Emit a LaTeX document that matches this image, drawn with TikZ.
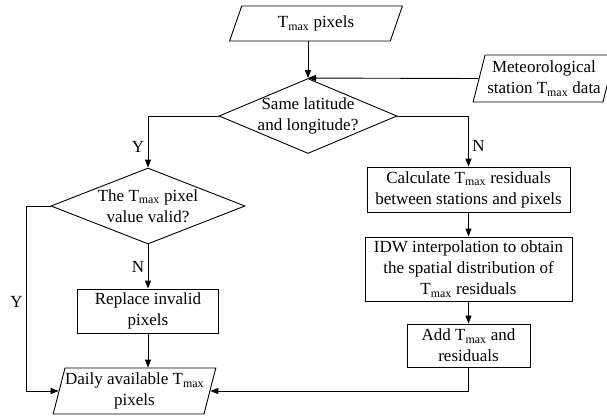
\documentclass[tikz,border=0pt]{standalone}
\usepackage{fontspec}
\setmainfont{Liberation Serif}
\newfontfamily\timesfont{Liberation Serif}
\usetikzlibrary{shapes.geometric,arrows.meta}
\newcommand{\Tmx}{T\textsubscript{max}}

\begin{document}
\begin{tikzpicture}[x=1pt,y=-1pt,
  font=\timesfont\fontsize{17}{21}\selectfont,
  line width=0.9pt,
  io/.style={draw,trapezium,trapezium left angle=72,trapezium right angle=108,
    trapezium stretches=true,inner sep=0pt,align=center},
  proc/.style={draw,rectangle,inner sep=0pt,align=center},
  decide/.style={draw,diamond,inner sep=0pt},
  flow/.style={-{Triangle[length=8pt,width=6pt]}}]
\useasboundingbox (0,0) rectangle (607,416);
% inputs
\node[io,trapezium left angle=68,trapezium right angle=112,
  minimum width=174,minimum height=35] (pix) at (316,23.5) {\Tmx{} pixels};
\node[io,minimum width=142,minimum height=47] (met) at (544,78.5)
  {Meteorological\\station \Tmx{} data};
% decisions
\node[decide,minimum width=178,minimum height=75,
  label={[align=center]center:Same latitude\\and longitude?}] (same) at (308,116) {};
\node[decide,minimum width=194,minimum height=76,
  label={[align=center]center:The \Tmx{} pixel\\value valid?}] (valid) at (148,206) {};
% left branch
\node[proc,minimum width=141,minimum height=44] (repl) at (148,311)
  {Replace invalid\\pixels};
\node[io,minimum width=163,minimum height=46] (daily) at (134.5,391)
  {Daily available \Tmx\\pixels};
% right branch
\node[proc,minimum width=203,minimum height=45] (calc) at (468.5,189.5)
  {Calculate \Tmx{} residuals\\between stations and pixels};
\node[proc,minimum width=207,minimum height=64] (idw) at (468.5,269)
  {IDW interpolation to obtain\\the spatial distribution of\\\Tmx{} residuals};
\node[proc,minimum width=123,minimum height=43] (add) at (468.5,345.5)
  {Add \Tmx{} and\\residuals};
% connectors
\draw[flow] (same.north |- pix.south) -- (same.north);
\draw[flow] (met.west) -- (same.north);
\draw[flow] (same.west) -| node[pos=0.8,left] {Y} (valid.north);
\draw[flow] (same.east) -| node[pos=0.8,right] {N} (calc.north);
\draw[flow] (valid.south) -- node[left] {N} (repl.north);
\draw[flow] (valid.west) -- ++(-24,0) |- node[pos=0.26,left] {Y} (daily.west);
\draw[flow] (repl.south) -- (repl.south |- daily.north);
\draw[flow] (calc.south) -- (idw.north);
\draw[flow] (idw.south) -- (add.north);
\draw[flow] (add.south) |- (daily.east);
\end{tikzpicture}
\end{document}
